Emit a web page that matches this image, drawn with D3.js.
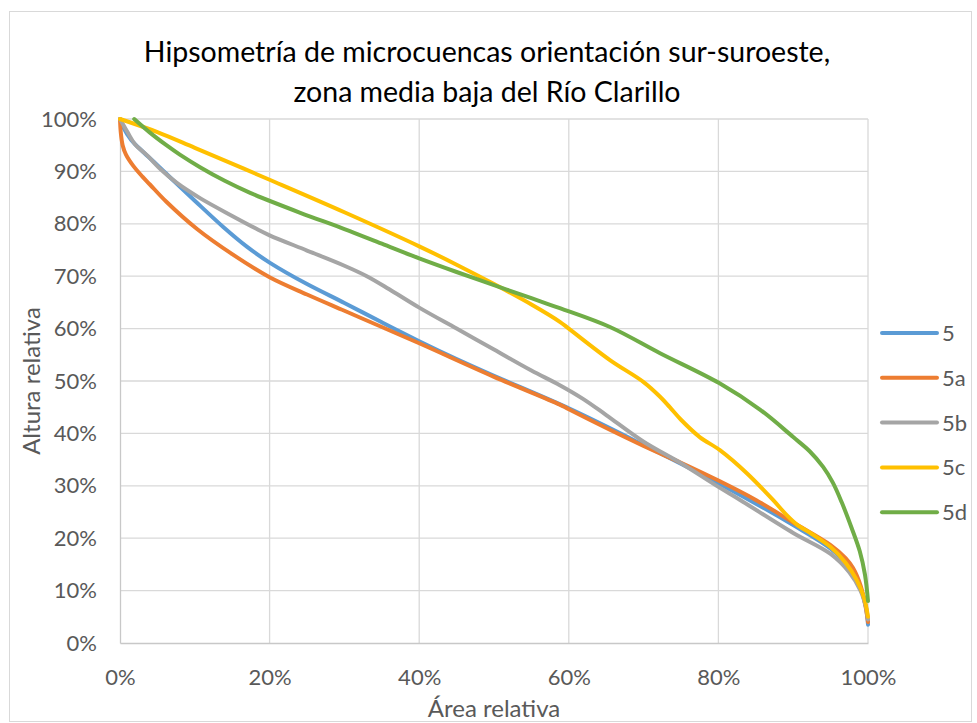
<!DOCTYPE html>
<html>
<head>
<meta charset="utf-8">
<script src="https://cdn.jsdelivr.net/npm/d3@7/dist/d3.min.js"></script>
<style>
  html, body { margin: 0; padding: 0; background: #fff; }
  svg { display: block; font-family: Lato, "Open Sans", sans-serif; }
</style>
</head>
<body>
<svg id="chart" width="977" height="723"></svg>
<script>
// Hypsometric curves: [relative area %, relative height %]
const s5  = [[0,100],[0.4,98.5],[1.5,96],[3.1,93.7],[5,91.2],[7.1,88.3],[10,84.4],[13.8,79.4],[17,75.6],[20,72.6],[25,68.5],[30,64.9],[35,61.2],[40,57.6],[45,54.2],[50,51],[60,44.8],[70,37.8],[80,30.5],[90,22.5],[95,18],[97.5,14.5],[99,10.5],[99.7,7],[100,3.5]];
const s5a = [[0,100],[0.1,97.5],[0.35,95],[0.8,93.2],[1.8,91],[3,89],[4,87.5],[6.2,84.2],[10.3,79],[15,74.2],[20,69.8],[25,66.5],[30,63.4],[35,60.3],[40,57.2],[50,50.8],[58.8,45.5],[60,44.6],[70,37.6],[75,34.4],[80,31],[85,27.3],[90,23],[95,18.7],[97,16.2],[98,14.3],[99,11],[99.6,7.5],[100,4]];
const s5b = [[0,100],[1,97.5],[2,95.2],[3.6,93.1],[5.5,90.3],[7.6,87.8],[10.7,84.9],[15,81.5],[18.3,79],[20,77.8],[25,74.9],[30,72],[33,70],[36,67.5],[40,64],[45,60],[50,56],[55,52],[58.8,49.2],[62,46.5],[65,43.5],[70,38.4],[75,34.3],[80,29.8],[82.9,27.3],[90,21],[95,17],[97.5,13.5],[99,10],[99.7,7],[100,4.5]];
const s5c = [[0,100],[5,97.5],[10,94.5],[20,88.4],[30,82.2],[40,75.7],[45,72.2],[50,68.5],[55,64.6],[58.8,61.3],[60,60],[65.5,54],[70,49.8],[72.2,47],[73.5,45],[75,42.6],[77.5,39.3],[80.2,36.8],[83.8,32.4],[87.3,27.3],[89,24.6],[90.5,22.6],[92.5,20.8],[95,18.3],[97,15.3],[98.5,12],[99.5,8.5],[100,5]];
const s5d = [[1.9,100],[4,97.4],[6.2,95],[8,93.2],[10.7,90.8],[14,88.2],[17.4,85.9],[24.1,82.1],[30,79],[35,76.2],[40,73.4],[45,70.8],[50,68.3],[55,65.8],[58.8,63.9],[65.5,60.3],[72.2,55.3],[80.1,49.6],[85.6,44.5],[90,39.3],[92.2,36.6],[94,33.6],[95.3,30.6],[96.5,26.8],[97.8,22],[98.9,17.5],[99.6,13],[100,8]];

const seriesNames  = ["5", "5a", "5b", "5c", "5d"];
const seriesColors = ["#5B9BD5", "#ED7D31", "#A5A5A5", "#FFC000", "#70AD47"];
const seriesData   = [s5, s5a, s5b, s5c, s5d];

const xTicks = [0, 20, 40, 60, 80, 100];
const yTicks = [0, 10, 20, 30, 40, 50, 60, 70, 80, 90, 100];

const titleLines = ["Hipsometría de microcuencas orientación sur-suroeste,", "zona media baja del Río Clarillo"];
const xTitle = "Área relativa";
const yTitle = "Altura relativa";

const svg = d3.select("#chart");

// chart frame
svg.append("rect")
  .attr("x", 9.5).attr("y", 11.5).attr("width", 962).attr("height", 710)
  .attr("fill", "#fff").attr("stroke", "#d9d9d9").attr("stroke-width", 1);

const plot = { left: 120, right: 868, top: 119, bottom: 643 };

const x = d3.scaleLinear().domain([0, 100]).range([plot.left, plot.right]);
const y = d3.scaleLinear().domain([0, 100]).range([plot.bottom, plot.top]);

// gridlines
const grid = svg.append("g").attr("stroke", "#d9d9d9").attr("stroke-width", 1.3);
grid.selectAll("line.h").data(yTicks.filter(d => d > 0)).join("line")
  .attr("x1", plot.left).attr("x2", plot.right)
  .attr("y1", d => y(d)).attr("y2", d => y(d));
grid.selectAll("line.v").data(xTicks.filter(d => d > 0)).join("line")
  .attr("y1", plot.top).attr("y2", plot.bottom)
  .attr("x1", d => x(d)).attr("x2", d => x(d));

// axes
const pct = d => d + "%";
const xAxis = svg.append("g").attr("transform", `translate(0,${plot.bottom})`)
  .call(d3.axisBottom(x).tickValues(xTicks).tickFormat(pct).tickSize(0).tickPadding(26));
const yAxis = svg.append("g").attr("transform", `translate(${plot.left},0)`)
  .call(d3.axisLeft(y).tickValues(yTicks).tickFormat(pct).tickSize(0).tickPadding(23));
[xAxis, yAxis].forEach(a => {
  a.select(".domain").attr("stroke", "#c8c8c8").attr("stroke-width", 1.3);
  a.selectAll("text").attr("fill", "#595959").style("font-size", "22px").style("font-family", "Lato, sans-serif");
});

// series
const line = d3.line()
  .x(d => x(d[0])).y(d => y(d[1]))
  .curve(d3.curveCatmullRom.alpha(0.5));

svg.append("g").selectAll("path").data(seriesData).join("path")
  .attr("d", d => line(d))
  .attr("fill", "none")
  .attr("stroke", (d, i) => seriesColors[i])
  .attr("stroke-width", 4)
  .attr("stroke-linejoin", "round")
  .attr("stroke-linecap", "round");

// title
svg.append("g").selectAll("text").data(titleLines).join("text")
  .attr("x", 487).attr("y", (d, i) => 62 + i * 40)
  .attr("text-anchor", "middle")
  .attr("fill", "#000")
  .style("font-size", "28.5px")
  .text(d => d);

// axis titles
svg.append("text")
  .attr("x", (plot.left + plot.right) / 2).attr("y", 717)
  .attr("text-anchor", "middle").attr("fill", "#595959")
  .style("font-size", "24px").text(xTitle);
svg.append("text")
  .attr("transform", `translate(40,${(plot.top + plot.bottom) / 2}) rotate(-90)`)
  .attr("text-anchor", "middle").attr("fill", "#595959")
  .style("font-size", "24px").text(yTitle);

// legend
const legend = svg.append("g").selectAll("g").data(seriesNames).join("g")
  .attr("transform", (d, i) => `translate(882,${333 + i * 44.8})`);
legend.append("line")
  .attr("x1", 0).attr("x2", 55)
  .attr("stroke", (d, i) => seriesColors[i])
  .attr("stroke-width", 4).attr("stroke-linecap", "round");
legend.append("text")
  .attr("x", 60).attr("dy", "0.36em")
  .attr("fill", "#595959").style("font-size", "22px")
  .text(d => d);
</script>
</body>
</html>
